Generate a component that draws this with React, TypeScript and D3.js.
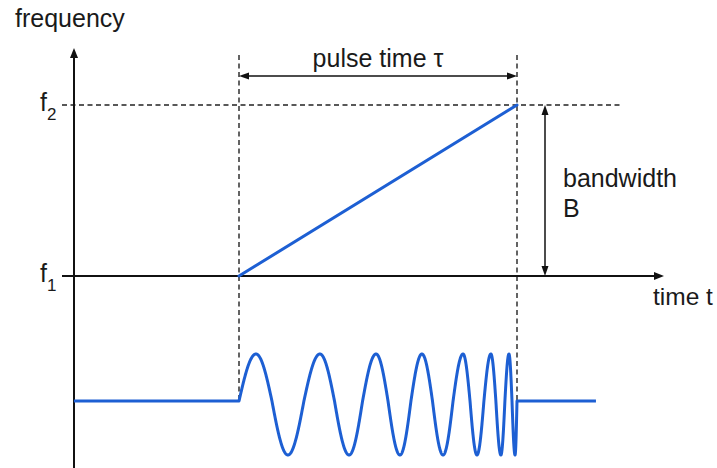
import React from "react";
import * as d3 from "d3";

// Frequency levels marked on the vertical axis
const freqLevels = [
  { name: "f", sub: "1", value: 1 },
  { name: "f", sub: "2", value: 2 },
];

// Linear frequency sweep over the pulse (time in units of τ)
const sweepT = [0, 1];
const sweepF = [1, 2];

// Chirp waveform: time of each quarter/half-cycle landmark and its phase (cycles)
const waveT = [0, 0.061, 0.176, 0.291, 0.396, 0.493, 0.579, 0.658, 0.734, 0.806, 0.856, 0.906, 0.942, 0.971, 0.993, 1.0];
const wavePhase = [0, 0.25, 0.75, 1.25, 1.75, 2.25, 2.75, 3.25, 3.75, 4.25, 4.75, 5.25, 5.75, 6.25, 6.75, 7];

// Flat signal before / after the pulse
const signalStartT = -0.594;
const signalEndT = 1.284;

const W = 717;
const H = 468;
const FONT = "'Liberation Sans', Arial, Helvetica, sans-serif";
const BLUE = "#1d5fd3";
const INK = "#111";

const x = d3.scaleLinear().domain([0, 1]).range([239, 517]);
const yF = d3.scaleLinear().domain([1, 2]).range([276, 105]);
const ySig = d3.scaleLinear().domain([-1, 0, 1]).range([455, 401, 354]);
const phaseAt = d3.scaleLinear().domain(waveT).range(wavePhase).clamp(true);

const axisX = 74;
const axisTop = 48;
const axisLeft = 62;
const axisRight = 664;
const dashTop = 55;
const f2DashRight = 620;
const pulseArrowY = 76;
const bwArrowX = 545;

function head(tx: number, ty: number, dir: "up" | "down" | "left" | "right", len: number, hw: number) {
  let pts: [number, number][];
  if (dir === "up") pts = [[tx, ty], [tx - hw, ty + len], [tx + hw, ty + len]];
  else if (dir === "down") pts = [[tx, ty], [tx - hw, ty - len], [tx + hw, ty - len]];
  else if (dir === "left") pts = [[tx, ty], [tx + len, ty - hw], [tx + len, ty + hw]];
  else pts = [[tx, ty], [tx - len, ty - hw], [tx - len, ty + hw]];
  return "M" + pts.map((p) => p.join(",")).join("L") + "Z";
}

export default function App() {
  const sweepLine = d3
    .line<number>()
    .x((_, i) => x(sweepT[i]))
    .y((_, i) => yF(sweepF[i]))(sweepT) as string;

  const samples = d3.range(0, 1.0001, 0.0005);
  const pts: [number, number][] = [];
  pts.push([x(signalStartT), ySig(0)]);
  samples.forEach((t) => {
    pts.push([x(t), ySig(Math.sin(2 * Math.PI * phaseAt(t)))]);
  });
  pts.push([x(1), ySig(0)]);
  pts.push([x(signalEndT), ySig(0)]);
  const wavePath = d3.line()(pts) as string;

  const dashStyle = { stroke: "#222", strokeWidth: 1.4, strokeDasharray: "5,3.5", fill: "none" };

  return (
    <svg width={W} height={H} style={{ position: "absolute", left: 0, top: 0, background: "#fff" }}>
      <rect width={W} height={H} fill="#fff" />

      {/* pulse boundaries */}
      {[0, 1].map((t) => (
        <line key={t} x1={x(t)} x2={x(t)} y1={dashTop} y2={ySig(0)} {...dashStyle} />
      ))}
      {/* f2 level */}
      <line x1={axisLeft} x2={f2DashRight} y1={yF(2)} y2={yF(2)} {...dashStyle} />

      {/* axes */}
      <line x1={axisX} x2={axisX} y1={H} y2={axisTop + 6} stroke={INK} strokeWidth={2} />
      <path d={head(axisX, axisTop, "up", 10, 4)} fill={INK} />
      <line x1={axisLeft} x2={axisRight - 6} y1={yF(1)} y2={yF(1)} stroke={INK} strokeWidth={2} />
      <path d={head(axisRight, yF(1), "right", 10, 4)} fill={INK} />

      {/* pulse time arrow */}
      <line x1={x(0) + 5} x2={x(1) - 5} y1={pulseArrowY} y2={pulseArrowY} stroke={INK} strokeWidth={1.5} />
      <path d={head(x(0), pulseArrowY, "left", 10, 3.5)} fill={INK} />
      <path d={head(x(1), pulseArrowY, "right", 10, 3.5)} fill={INK} />

      {/* bandwidth arrow */}
      <line x1={bwArrowX} x2={bwArrowX} y1={yF(2) + 5} y2={yF(1) - 5} stroke={INK} strokeWidth={1.5} />
      <path d={head(bwArrowX, yF(2), "up", 10, 3.5)} fill={INK} />
      <path d={head(bwArrowX, yF(1), "down", 10, 3.5)} fill={INK} />

      {/* frequency sweep */}
      <path d={sweepLine} stroke={BLUE} strokeWidth={3} fill="none" strokeLinecap="round" />

      {/* chirped pulse */}
      <path d={wavePath} stroke={BLUE} strokeWidth={3} fill="none" strokeLinejoin="round" />

      {/* labels */}
      <g fontFamily={FONT} fill="#1a1a1a">
        <text x={15} y={27} fontSize={25}>frequency</text>
        {freqLevels.map((d) => (
          <text key={d.sub} x={40} y={yF(d.value) + 6} fontSize={25}>
            {d.name}
            <tspan fontSize={17} dx={0} dy={9}>{d.sub}</tspan>
          </text>
        ))}
        <text x={(x(0) + x(1)) / 2} y={67} fontSize={25} textAnchor="middle">pulse time τ</text>
        <text x={563} y={187} fontSize={25}>bandwidth</text>
        <text x={563} y={217} fontSize={25}>B</text>
        <text x={653} y={305} fontSize={24.5}>time t</text>
      </g>
    </svg>
  );
}
